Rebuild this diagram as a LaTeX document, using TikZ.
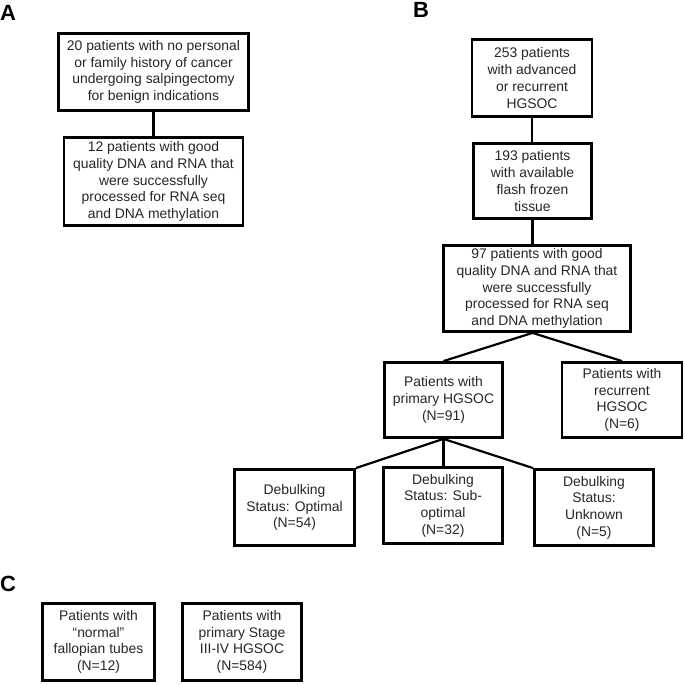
\documentclass[tikz,border=0pt]{standalone}
\usepackage{fontspec}
\setmainfont{Liberation Sans}
\begin{document}
\begin{tikzpicture}[x=1pt,y=-1pt,
  box/.style={draw, line width=2.8pt, align=center, inner sep=0pt,
    font=\fontsize{13.9}{16.7}\selectfont, text=black!85},
  conn/.style={line width=2.2pt},
  panel/.style={font=\fontsize{22}{22}\selectfont\bfseries, anchor=north west, inner sep=0pt}]
\useasboundingbox (0,0) rectangle (685,685);
\node[panel] (LA) at (0,5) {A};
\node[panel] (LB) at (413,2) {B};
\node[panel] (LC) at (0,576) {C};
% Panel A
\node[box, minimum width=190, minimum height=77] (A1) at (153.5,72)
  {20 patients with no personal\\or family history of cancer\\undergoing salpingectomy\\for benign indications};
\node[box, minimum width=179, minimum height=88] (A2) at (153.5,181.5)
  {12 patients with good\\quality DNA and RNA that\\were successfully\\processed for RNA seq\\and DNA methylation};
\draw[conn] (A1.south) -- (A2.north);
% Panel B
\node[box, minimum width=120, minimum height=77] (B1) at (532,78)
  {253 patients\\with advanced\\or recurrent\\HGSOC};
\node[box, minimum width=118, minimum height=75] (B2) at (532.5,181)
  {193 patients\\with available\\flash frozen\\tissue};
\node[box, minimum width=187, minimum height=86] (B3) at (537,288.5)
  {97 patients with good\\quality DNA and RNA that\\were successfully\\processed for RNA seq\\and DNA methylation};
\node[box, minimum width=118, minimum height=75] (B4) at (443.5,400)
  {Patients with\\primary HGSOC\\(N=91)};
\node[box, minimum width=120, minimum height=75] (B5) at (622,400)
  {Patients with\\recurrent\\HGSOC\\(N=6)};
\node[box, minimum width=120, minimum height=76] (B6) at (294.5,507.5)
  {Debulking\\Status: Optimal\\(N=54)};
\node[box, minimum width=119, minimum height=76] (B7) at (443,505.5)
  {Debulking\\Status: Sub-\\optimal\\(N=32)};
\node[box, minimum width=119, minimum height=76] (B8) at (594,507.5)
  {Debulking\\Status:\\Unknown\\(N=5)};
\coordinate (B2B3top) at (B2.south |- B3.north);
\coordinate (B3split) at (B2.south |- B3.south);
\draw[conn] (B1.south) -- (B1.south |- B2.north);
\draw[conn] (B2.south) -- (B2B3top);
\draw[conn] (B3split) -- (B4.north);
\draw[conn] (B3split) -- (B5.north);
\draw[conn] (B4.south) -- (B6.north east);
\draw[conn] (B4.south) -- (B4.south |- B7.north);
\draw[conn] (B4.south) -- (B8.north west);
% Panel C
\node[box, minimum width=112, minimum height=77] (C1) at (98.5,642)
  {Patients with\\``normal''\\fallopian tubes\\(N=12)};
\node[box, minimum width=119, minimum height=77] (C2) at (242,642)
  {Patients with\\primary Stage\\III-IV HGSOC\\(N=584)};
\end{tikzpicture}
\end{document}
